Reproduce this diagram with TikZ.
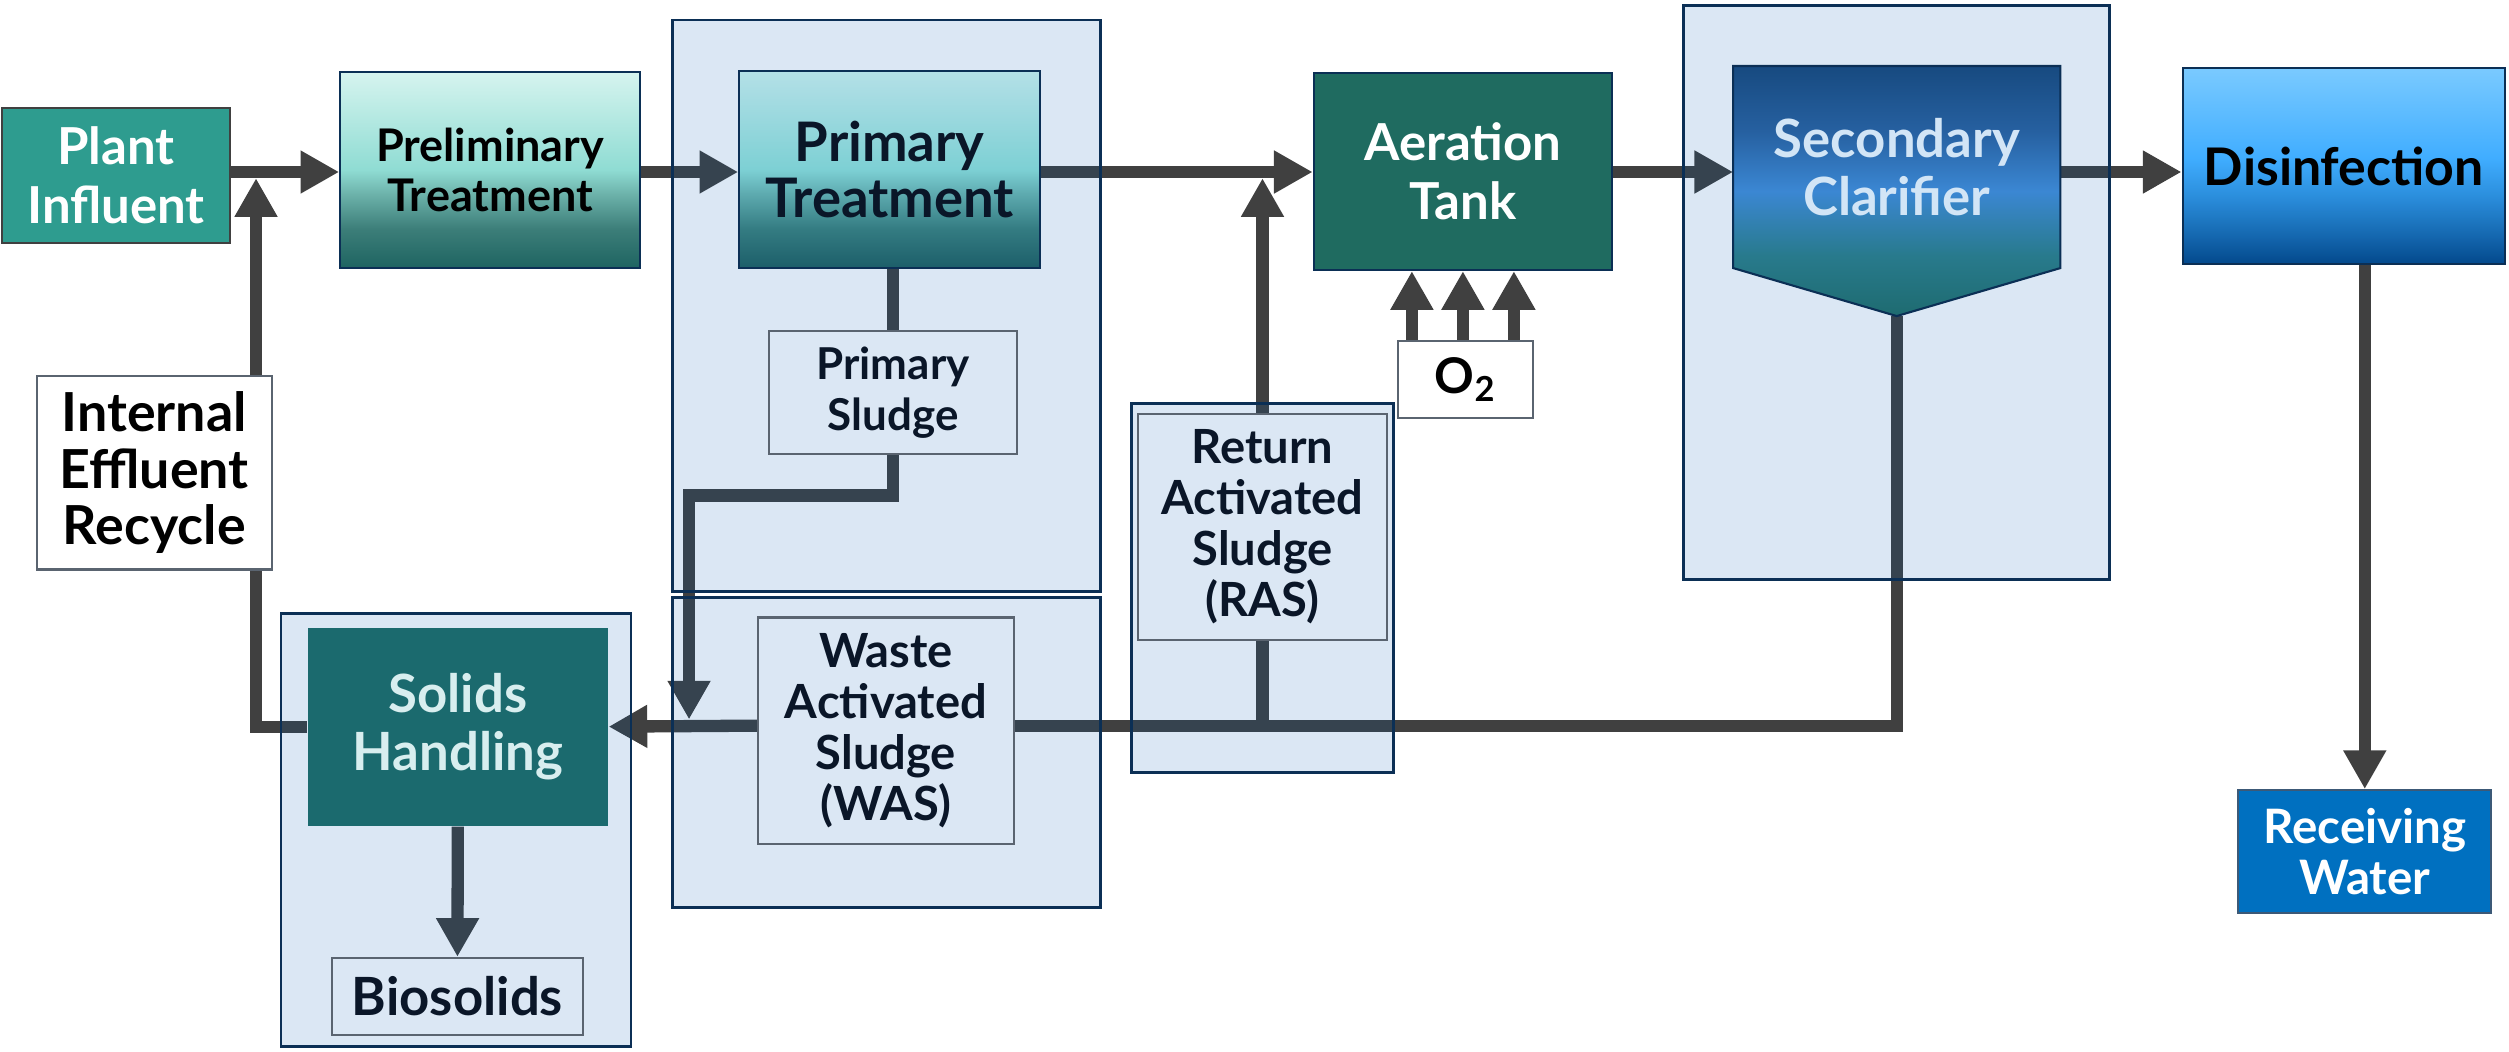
\documentclass[tikz,border=0pt]{standalone}
\usepackage{fontspec}
\setmainfont{Lato}
\usetikzlibrary{arrows.meta,calc}
\definecolor{ink}{HTML}{0A1628}
\definecolor{pipegray}{HTML}{404040}
\definecolor{navy}{HTML}{0B2F55}
\definecolor{tint}{HTML}{0058B0}
\definecolor{edge}{HTML}{5A6470}
\definecolor{influent}{HTML}{2E9C8F}
\definecolor{aerGreen}{HTML}{1F6B60}
\definecolor{solidsTeal}{HTML}{1B6A6E}
\definecolor{solidsText}{HTML}{D8EEEF}
\definecolor{recvBlue}{HTML}{0070C0}
\definecolor{clarText}{HTML}{D2E5F6}
% gradient stops
\definecolor{prelimTop}{HTML}{D6F4EF}
\definecolor{prelimMid}{HTML}{8FDCD3}
\definecolor{prelimLow}{HTML}{6DB3AB}
\definecolor{prelimDeep}{HTML}{3C7E79}
\definecolor{prelimBot}{HTML}{1E6461}
\definecolor{primTop}{HTML}{B4E0E7}
\definecolor{primMid}{HTML}{7DD0D4}
\definecolor{primLow}{HTML}{5EABB0}
\definecolor{primDeep}{HTML}{347C82}
\definecolor{primBot}{HTML}{1C5E69}
\definecolor{clarTop}{HTML}{174A80}
\definecolor{clarHigh}{HTML}{2660A0}
\definecolor{clarMid}{HTML}{3B87D3}
\definecolor{clarLow}{HTML}{287A8C}
\definecolor{clarBot}{HTML}{1E6B70}
\definecolor{disTop}{HTML}{7ACAFF}
\definecolor{disMid}{HTML}{40ADFF}
\definecolor{disLow}{HTML}{2A8DDB}
\definecolor{disDeep}{HTML}{1466AE}
\definecolor{disBot}{HTML}{03498C}
\pgfdeclareverticalshading{prelimshade}{100bp}{color(0bp)=(prelimBot); color(25bp)=(prelimBot);
  color(35bp)=(prelimDeep); color(44bp)=(prelimLow); color(50bp)=(prelimMid);
  color(75bp)=(prelimTop); color(100bp)=(prelimTop)}
\pgfdeclareverticalshading{primshade}{100bp}{color(0bp)=(primBot); color(25bp)=(primBot);
  color(35bp)=(primDeep); color(44bp)=(primLow); color(50bp)=(primMid);
  color(75bp)=(primTop); color(100bp)=(primTop)}
\pgfdeclareverticalshading{clarshade}{100bp}{color(0bp)=(clarBot); color(25bp)=(clarBot);
  color(37bp)=(clarLow); color(50bp)=(clarMid); color(62bp)=(clarHigh);
  color(75bp)=(clarTop); color(100bp)=(clarTop)}
\pgfdeclareverticalshading{disshade}{100bp}{color(0bp)=(disBot); color(25bp)=(disBot);
  color(32bp)=(disDeep); color(42bp)=(disLow); color(52bp)=(disMid);
  color(75bp)=(disTop); color(100bp)=(disTop)}
\pgfdeclarelayer{pipes}
\pgfdeclarelayer{groups}
\pgfsetlayers{pipes,groups,main}
\tikzset{
  procbox/.style={draw=navy,line width=0.6pt,align=center,inner sep=2pt},
  labelbox/.style={draw=edge,line width=0.6pt,align=center,inner sep=2pt,text=ink,
    font=\fontsize{13.4}{14.5}\selectfont\bfseries},
  group/.style={draw=navy,line width=0.8pt,fill=tint,fill opacity=0.14},
  pipe/.style={draw=pipegray,line width=3.5pt},
  flow/.style={pipe,-{Triangle[length=11pt,width=11.5pt]}}
}

\begin{document}
\begin{tikzpicture}
  \useasboundingbox (0,0) rectangle (25.088,10.512);

  \node[procbox,draw=pipegray,fill=influent,text=white,minimum width=2.277cm,minimum height=1.35cm,
    font=\fontsize{14.5}{16.6}\selectfont\bfseries] (influent) at (1.161,8.76) {Plant\\Influent};
  \node[procbox,shade,shading=prelimshade,text=black,
    minimum width=2.998cm,minimum height=1.965cm,font=\fontsize{12.8}{14.2}\selectfont\bfseries]
    (prelim) at (4.901,8.813) {Preliminary\\Treatment};
  \node[procbox,shade,shading=primshade,text=ink,
    minimum width=3.008cm,minimum height=1.973cm,font=\fontsize{15.5}{16.1}\selectfont\bfseries]
    (primary) at (8.896,8.816) {Primary\\Treatment};
  \node[procbox,fill=aerGreen,text=white,minimum width=2.984cm,minimum height=1.973cm,
    font=\fontsize{14.5}{16.9}\selectfont\bfseries] (aeration) at (14.628,8.798) {Aeration\\Tank};
  \node[procbox,draw=none,text=clarText,minimum width=3.251cm,minimum height=2cm,
    font=\fontsize{15}{16.3}\selectfont\bfseries] (clarifier) at (18.966,8.842) {Secondary\\Clarifier};
  \coordinate (clartip) at ([yshift=-0.48cm]clarifier.south);
  \node[procbox,shade,shading=disshade,text=black,
    minimum width=3.226cm,minimum height=1.958cm,font=\fontsize{14.75}{16}\selectfont\bfseries]
    (disinfection) at (23.437,8.851) {Disinfection};
  \node[procbox,draw=navy!80,fill=recvBlue,text=white,minimum width=2.531cm,minimum height=1.229cm,
    font=\fontsize{13.5}{14.5}\selectfont\bfseries] (receiving) at (23.646,1.997) {Receiving\\Water};
  \node[procbox,draw=edge,fill=white,text=black,minimum width=1.347cm,minimum height=0.776cm,
    font=\fontsize{14}{15}\selectfont\bfseries] (o2) at (14.654,6.716) {O\textsubscript{2}};
  \node[procbox,draw=edge,fill=white,text=black,minimum width=2.347cm,minimum height=1.939cm,
    font=\fontsize{15.3}{16.2}\selectfont\bfseries] (recycle) at (1.542,5.787) {Internal\\Effluent\\Recycle};
  \node[procbox,draw=none,fill=solidsTeal,text=solidsText,minimum width=2.994cm,minimum height=1.979cm,
    font=\fontsize{15}{16.5}\selectfont\bfseries] (solids) at (4.578,3.246) {Solids\\Handling};
  \node[labelbox,minimum width=2.515cm,minimum height=0.774cm,font=\fontsize{15}{16}\selectfont\bfseries]
    (biosolids) at (4.574,0.547) {Biosolids};
  \node[labelbox,minimum width=2.482cm,minimum height=1.229cm,font=\fontsize{12.5}{14.7}\selectfont\bfseries]
    (psludge) at (8.930,6.586) {Primary\\Sludge};
  \node[labelbox,minimum width=2.56cm,minimum height=2.266cm] (was) at (8.859,3.205)
    {Waste\\Activated\\Sludge\\(WAS)};
  \node[labelbox,minimum width=2.496cm,minimum height=2.261cm] (ras) at (12.624,5.242)
    {Return\\Activated\\Sludge\\(RAS)};

  \coordinate (mainline) at (0,8.792);
  \coordinate (wasline) at (0,3.256);
  \coordinate (rasjoin) at (12.624,8.73);
  \coordinate (recyclejoin) at (2.56,8.73);
  \coordinate (sludgebend) at (6.89,5.557);
  \coordinate (sludgejoin) at (6.89,3.318);

  \begin{pgfonlayer}{pipes}
    \draw[flow] (influent.east |- mainline) -- (prelim.west |- mainline);
    \draw[flow] (prelim.east |- mainline) -- (primary.west |- mainline);
    \draw[flow] (primary.east |- mainline) -- (aeration.west |- mainline);
    \draw[flow] (aeration.east |- mainline) -- (clarifier.west |- mainline);
    \draw[flow] (clarifier.east |- mainline) -- (disinfection.west |- mainline);
    \draw[flow] (disinfection.south -| receiving.north) -- (receiving.north);
    \foreach \dx in {-0.51,0,0.51}
      \draw[flow] ([xshift=\dx cm]aeration.south |- o2.north) -- ([xshift=\dx cm]aeration.south);
    \draw[pipe] (psludge.north |- primary.south) -- (psludge.north);
    \draw[flow] (psludge.south) |- (sludgebend) -- (sludgejoin);
    \draw[pipe] (clartip) |- (was.east |- wasline);
    \draw[flow] (was.west |- wasline) -- (solids.east);
    \draw[pipe] (ras.south |- wasline) -- (ras.south);
    \draw[flow] (ras.north) -- (rasjoin);
    \draw[pipe] (solids.west) -| (recyclejoin |- recycle.south);
    \draw[flow] (recyclejoin |- recycle.north) -- (recyclejoin);
    \draw[flow] (solids.south) -- (biosolids.north);
  \end{pgfonlayer}

  \begin{pgfonlayer}{groups}
    \draw[group] (6.725,4.594) rectangle (11.0,10.312);
    \draw[group] (6.728,1.44) rectangle (11.005,4.536);
    \draw[group] (16.832,4.72) rectangle (21.096,10.454);
    \draw[group] (11.312,2.784) rectangle (13.936,6.475);
    \draw[group] (2.81,0.051) rectangle (6.31,4.379);
    \shadedraw[shading=clarshade,draw=navy,line width=0.6pt]
      (clarifier.north west) -- (clarifier.north east) -- (clarifier.south east) -- (clartip)
      -- (clarifier.south west) -- cycle;
  \end{pgfonlayer}
\end{tikzpicture}
\end{document}
